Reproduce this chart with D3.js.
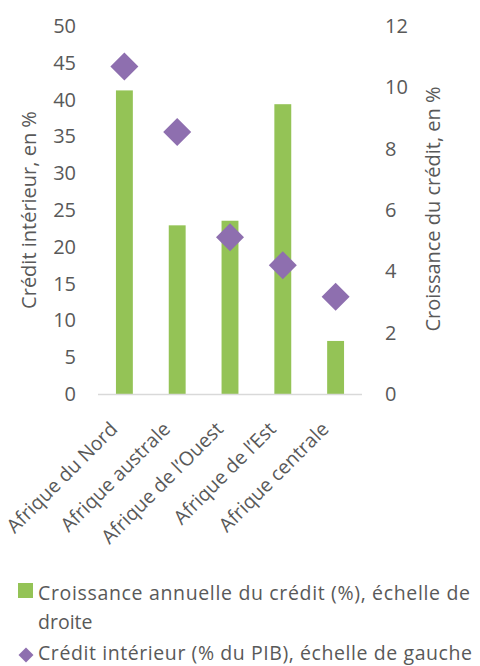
<!DOCTYPE html>
<html>
<head>
<meta charset="utf-8">
<script src="https://cdn.jsdelivr.net/npm/d3@7"></script>
<style>
  html, body { margin: 0; padding: 0; background: #fff; }
  text { font-family: "Open Sans", sans-serif; fill: #595959; }
</style>
</head>
<body>
<svg id="chart" width="480" height="666"></svg>
<script>
// Regions of Africa
const regions = ["Afrique du Nord", "Afrique australe", "Afrique de l\u2019Ouest", "Afrique de l\u2019Est", "Afrique centrale"];
// Annual credit growth (%), right-hand scale
const creditGrowth = [9.9, 5.5, 5.65, 9.45, 1.73];
// Domestic credit (% of GDP), left-hand scale
const domesticCredit = [44.5, 35.6, 21.3, 17.5, 13.2];
const leftTicks = [0, 5, 10, 15, 20, 25, 30, 35, 40, 45, 50];
const rightTicks = [0, 2, 4, 6, 8, 10, 12];

const green = "#94C356";
const purple = "#8E6FAF";

const svg = d3.select("#chart");
const plot = { left: 98, right: 362, top: 26, bottom: 394 };

const x = d3.scaleBand().domain(regions).range([plot.left, plot.right]).paddingInner(0.68).paddingOuter(0.34);
const yL = d3.scaleLinear().domain([0, 50]).range([plot.bottom, plot.top]);
const yR = d3.scaleLinear().domain([0, 12]).range([plot.bottom, plot.top]);

// Bars: credit growth on the right axis
svg.append("g").selectAll("rect").data(regions).join("rect")
  .attr("x", d => x(d))
  .attr("width", x.bandwidth())
  .attr("y", (d, i) => yR(creditGrowth[i]))
  .attr("height", (d, i) => yR(0) - yR(creditGrowth[i]))
  .attr("fill", green);

// Category axis line
svg.append("line")
  .attr("x1", plot.left).attr("x2", plot.right)
  .attr("y1", plot.bottom + 0.5).attr("y2", plot.bottom + 0.5)
  .attr("stroke", "#D9D9D9").attr("stroke-width", 1.5);

// Diamonds: domestic credit on the left axis
const diamond = d3.symbol().type(d3.symbolSquare).size(392);
svg.append("g").selectAll("path").data(regions).join("path")
  .attr("d", diamond)
  .attr("transform", (d, i) => `translate(${x(d) + x.bandwidth() / 2},${yL(domesticCredit[i])}) rotate(45)`)
  .attr("fill", purple);

// Left axis
const axL = svg.append("g").attr("transform", `translate(${plot.left - 22},0)`)
  .call(d3.axisLeft(yL).tickValues(leftTicks).tickSize(0).tickPadding(0));
axL.select(".domain").remove();
axL.selectAll("text").style("font-size", "20px").style("fill", "#595959").style("font-family", "Open Sans");

// Right axis
const axR = svg.append("g").attr("transform", `translate(${plot.right + 23},0)`)
  .call(d3.axisRight(yR).tickValues(rightTicks).tickSize(0).tickPadding(0));
axR.select(".domain").remove();
axR.selectAll("text").style("font-size", "20px").style("fill", "#595959").style("font-family", "Open Sans");

// Axis titles
svg.append("text")
  .attr("transform", "translate(28,210) rotate(-90)")
  .attr("text-anchor", "middle").attr("dominant-baseline", "central")
  .style("font-size", "20px")
  .text("Crédit intérieur, en %");
svg.append("text")
  .attr("transform", "translate(432,209) rotate(-90)")
  .attr("text-anchor", "middle").attr("dominant-baseline", "central")
  .style("font-size", "20px")
  .text("Croissance du crédit, en %");

// Rotated category labels
svg.append("g").selectAll("text").data(regions).join("text")
  .attr("transform", d => `translate(${x(d) + x.bandwidth() / 2 - 11},${plot.bottom + 31}) rotate(-45)`)
  .attr("text-anchor", "end").attr("dominant-baseline", "central")
  .style("font-size", "19.5px")
  .text(d => d);

// Legend
const lg = svg.append("g");
lg.append("rect").attr("x", 18).attr("y", 583).attr("width", 15).attr("height", 15).attr("fill", green);
lg.append("text").attr("x", 38).attr("y", 600).style("font-size", "19.5px")
  .attr("textLength", 432).attr("lengthAdjust", "spacing")
  .text("Croissance annuelle du crédit (%), échelle de");
lg.append("text").attr("x", 38).attr("y", 629).style("font-size", "19.5px").text("droite");
lg.append("path").attr("d", d3.symbol().type(d3.symbolSquare).size(112))
  .attr("transform", "translate(26,655) rotate(45)").attr("fill", purple);
lg.append("text").attr("x", 38).attr("y", 660).style("font-size", "19.5px")
  .attr("textLength", 434).attr("lengthAdjust", "spacing")
  .text("Crédit intérieur (% du PIB), échelle de gauche");
</script>
</body>
</html>
